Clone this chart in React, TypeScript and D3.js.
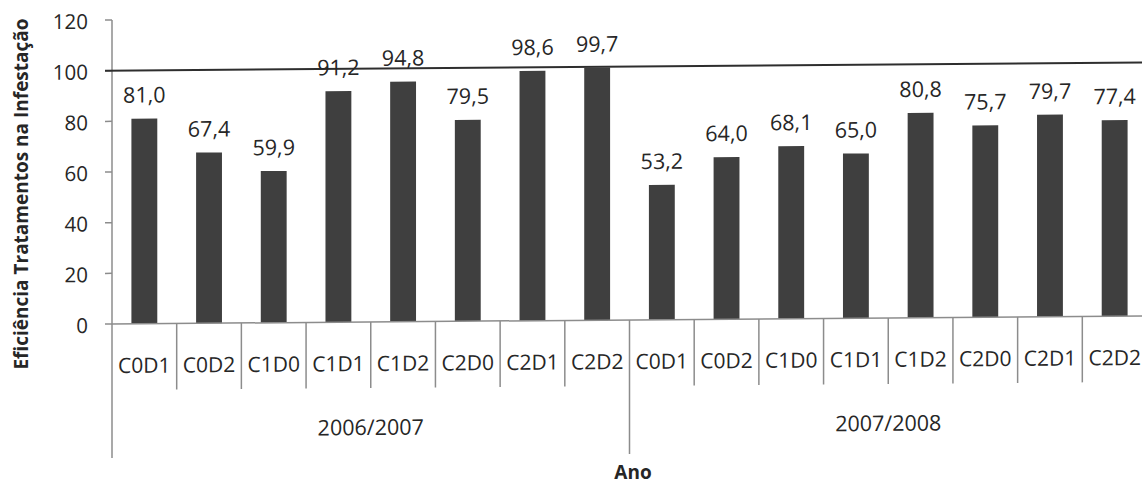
import React from 'react';
import * as d3 from 'd3';

const categories = ['C0D1', 'C0D2', 'C1D0', 'C1D1', 'C1D2', 'C2D0', 'C2D1', 'C2D2', 'C0D1', 'C0D2', 'C1D0', 'C1D1', 'C1D2', 'C2D0', 'C2D1', 'C2D2'];
const groups = ['2006/2007', '2007/2008'];
const groupSizes = [8, 8];
const values = [81.0, 67.4, 59.9, 91.2, 94.8, 79.5, 98.6, 99.7, 53.2, 64.0, 68.1, 65.0, 80.8, 75.7, 79.7, 77.4];
const yTicks = [0, 20, 40, 60, 80, 100, 120];
const referenceValue = 100;
const yTitle = 'Eficiência Tratamentos na Infestação';
const xTitle = 'Ano';

const W = 1142;
const H = 485;
const left = 112;
const right = 1147;
const baseY = 324;
const topY = 20;
const font = '"Open Sans", sans-serif';
const axisColor = '#8c8c8c';
const textColor = '#262626';

const ptLocale = d3.formatLocale({ decimal: ',', thousands: '.', grouping: [3], currency: ['', ''] });
const fmt = ptLocale.format('.1f');

export default function App() {
  const idx = d3.range(categories.length);
  const x = d3.scaleBand<number>().domain(idx).range([left, right]).paddingInner(0.6).paddingOuter(0.3);
  const y = d3.scaleLinear().domain([0, 120]).range([baseY, topY]);
  const step = x.step();
  const slotStart = (i: number) => left + i * step;

  const groupBounds: number[] = [0];
  groupSizes.forEach((s, k) => groupBounds.push(groupBounds[k] + s));

  return (
    <svg width={W} height={H} style={{ position: 'absolute', left: 0, top: 0, background: '#fff' }}>
      <rect x={0} y={0} width={W} height={H} fill="#fff" />
      <g transform={`translate(${left},${baseY}) skewY(-0.45) translate(${-left},${-baseY})`}>
        <line x1={left} x2={left} y1={y(120)} y2={baseY} stroke={axisColor} strokeWidth={1.5} />
        {yTicks.map((t) => (
          <g key={t}>
            <line x1={left - 7} x2={left} y1={y(t)} y2={y(t)} stroke={axisColor} strokeWidth={1.5} />
            <text x={88} y={y(t)} dy="0.42em" textAnchor="end" fontFamily={font} fontSize={20.5} fill={textColor}>
              {t}
            </text>
          </g>
        ))}
        {values.map((v, i) => (
          <rect key={i} x={x(i)} y={y(v)} width={x.bandwidth()} height={baseY - y(v)} fill="#3f3f3f" />
        ))}
        <line x1={left - 7} x2={right} y1={y(referenceValue)} y2={y(referenceValue)} stroke="#2e2e2e" strokeWidth={2} />
        {values.map((v, i) => (
          <text key={i} x={(x(i) as number) + x.bandwidth() / 2} y={y(v) - 16} textAnchor="middle" fontFamily={font} fontSize={21.5} fill={textColor}>
            {fmt(v)}
          </text>
        ))}
        <line x1={left} x2={right} y1={baseY} y2={baseY} stroke={axisColor} strokeWidth={1.5} />
        {d3.range(categories.length + 1).map((i) => {
          const major = groupBounds.includes(i);
          return (
            <line key={i} x1={slotStart(i)} x2={slotStart(i)} y1={baseY} y2={major ? 458 : 390} stroke={axisColor} strokeWidth={1.5} />
          );
        })}
        {categories.map((c, i) => (
          <text key={i} x={slotStart(i) + step / 2} y={373} textAnchor="middle" fontFamily={font} fontSize={21} fill={textColor}>
            {c}
          </text>
        ))}
        {groups.map((g, k) => (
          <text key={g} x={(slotStart(groupBounds[k]) + slotStart(groupBounds[k + 1])) / 2} y={437} textAnchor="middle" fontFamily={font} fontSize={21.5} fill={textColor}>
            {g}
          </text>
        ))}
      </g>
      <text x={633} y={479} textAnchor="middle" fontFamily={font} fontSize={19} fontWeight="bold" fill={textColor}>
        {xTitle}
      </text>
      <text transform={`translate(28,194) rotate(-90)`} textAnchor="middle" fontFamily={font} fontSize={19} fontWeight="bold" fill={textColor}>
        {yTitle}
      </text>
    </svg>
  );
}
